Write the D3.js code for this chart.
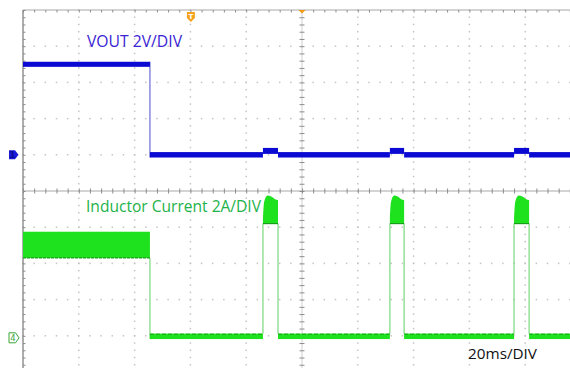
<!DOCTYPE html>
<html><head><meta charset="utf-8">
<script src="https://cdn.jsdelivr.net/npm/d3@7"></script>
<style>html,body{margin:0;padding:0;background:#fff;overflow:hidden}svg{display:block}</style>
</head><body>
<script>
// ---- data (read from the scope capture) ----
const msPerDiv = 20;            // time base
const voltsPerDiv = 2;          // channel 1 (VOUT)
const ampsPerDiv = 2;           // channel 4 (inductor current)
const ch1OffsetDiv = 1;         // channel 1 ground marker
const ch4OffsetDiv = -4;        // channel 4 ground marker

// VOUT envelope segments (ms, volts)
const voutSegStart = [0, 45.5, 86.0, 91.4, 131.5, 136.6, 176.0, 181.4];
const voutSegEnd   = [45.5, 86.0, 91.4, 131.5, 136.6, 176.0, 181.4, 200];
const voutSegMin   = [4.86, -0.15, 0.05, -0.15, 0.05, -0.15, 0.05, -0.15];
const voutSegMax   = [5.14, 0.15, 0.38, 0.15, 0.38, 0.15, 0.38, 0.15];
const voutFallTime = 45.5;

// Inductor current (ms, amps)
const ilPreStart = 0, ilPreEnd = 45.5;
const ilPreMin = 4.3, ilPreMax = 5.75;
const idleStart = [45.5, 91.4, 136.6, 181.4];
const idleEnd   = [86.0, 131.5, 176.0, 200];
const idleMin = -0.18, idleMax = 0.12;
const burstStart = [86.0, 131.5, 176.0];
const burstEnd   = [91.4, 136.6, 181.4];
const burstFloor = 6.2;
const burstProfilePos = [0, 0.08, 0.3, 0.55, 0.8, 1];
const burstProfileTop = [6.5, 7.4, 7.75, 7.7, 7.55, 7.5];

const labels = ["VOUT 2V/DIV", "Inductor Current 2A/DIV", "20ms/DIV"];

// ---- layout ----
const W = 570, H = 368;
const svg = d3.select("body").append("svg").attr("width", W).attr("height", H);
const x = d3.scaleLinear().domain([0, 10 * msPerDiv]).range([23, 581]);
const yDiv = d3.scaleLinear().domain([-5, 5]).range([372, 10]);
const yV = v => yDiv(ch1OffsetDiv + v / voltsPerDiv);
const yI = i => yDiv(ch4OffsetDiv + i / ampsPerDiv);

// ---- graticule ----
const grid = svg.append("g");
const minorX = d3.range(0, 10 * msPerDiv + 0.01, msPerDiv / 5);
const minorY = d3.range(-5, 5.01, 0.2);
const majorX = d3.range(0, 10 * msPerDiv + 0.01, msPerDiv);
const majorY = d3.range(-5, 5.01, 1);
const dotCol = "#c4c4c4";
// dotted lines
majorX.forEach(t => {
  if (t === 0 || t === 5 * msPerDiv) return;
  grid.selectAll(null).data(minorY).join("rect")
    .attr("x", x(t) - 0.75).attr("y", d => yDiv(d) - 0.75)
    .attr("width", 1.5).attr("height", 1.5).attr("fill", dotCol);
});
majorY.forEach(d0 => {
  if (d0 === 0 || d0 === 5) return;
  grid.selectAll(null).data(minorX).join("rect")
    .attr("x", d => x(d) - 0.75).attr("y", yDiv(d0) - 0.75)
    .attr("width", 1.5).attr("height", 1.5).attr("fill", dotCol);
});
// borders and centre lines
const lineCol = "#a8a8a8";
grid.append("line").attr("x1", x(0)).attr("x2", W).attr("y1", yDiv(5)).attr("y2", yDiv(5)).attr("stroke", lineCol).attr("stroke-width", 1.2);
grid.append("line").attr("x1", x(0)).attr("x2", x(0)).attr("y1", yDiv(5)).attr("y2", H).attr("stroke", "#8a8a8a").attr("stroke-width", 1.4);
grid.append("line").attr("x1", x(0)).attr("x2", W).attr("y1", yDiv(0)).attr("y2", yDiv(0)).attr("stroke", lineCol).attr("stroke-width", 1);
grid.append("line").attr("x1", x(100)).attr("x2", x(100)).attr("y1", yDiv(5)).attr("y2", H).attr("stroke", "#cfcfcf").attr("stroke-width", 1);
// ticks
const tickCol = "#8c8c8c";
grid.append("g").attr("transform", `translate(0,${yDiv(5)})`)
  .call(d3.axisBottom(x).tickValues(minorX).tickSize(2.5).tickFormat(""))
  .call(g => g.select(".domain").remove()).selectAll("line").attr("stroke", tickCol);
grid.append("g").attr("transform", `translate(0,${yDiv(0)})`)
  .call(d3.axisBottom(x).tickValues(minorX).tickSize(2.5).tickFormat(""))
  .call(g => g.select(".domain").remove()).selectAll("line").attr("stroke", tickCol);
grid.append("g").attr("transform", `translate(0,${yDiv(0)})`)
  .call(d3.axisTop(x).tickValues(minorX).tickSize(2.5).tickFormat(""))
  .call(g => g.select(".domain").remove()).selectAll("line").attr("stroke", tickCol);
grid.append("g").attr("transform", `translate(${x(0)},0)`)
  .call(d3.axisRight(yDiv).tickValues(minorY).tickSize(2.5).tickFormat(""))
  .call(g => g.select(".domain").remove()).selectAll("line").attr("stroke", tickCol);
grid.append("g").attr("transform", `translate(${x(100)},0)`)
  .call(d3.axisRight(yDiv).tickValues(minorY).tickSize(2.5).tickFormat(""))
  .call(g => g.select(".domain").remove()).selectAll("line").attr("stroke", tickCol);
grid.append("g").attr("transform", `translate(${x(100)},0)`)
  .call(d3.axisLeft(yDiv).tickValues(minorY).tickSize(2.5).tickFormat(""))
  .call(g => g.select(".domain").remove()).selectAll("line").attr("stroke", tickCol);

// ---- channel 4 : inductor current ----
const green = "#1fe21f", greenDark = "#17a017", greenThin = "#7cd87c";
const ch4 = svg.append("g");
// thin transitions
ch4.append("line").attr("x1", x(ilPreEnd)).attr("x2", x(ilPreEnd))
  .attr("y1", yI(ilPreMin)).attr("y2", yI(idleMin)).attr("stroke", greenThin).attr("stroke-width", 1.2);
burstStart.forEach((s, k) => {
  [s, burstEnd[k]].forEach(t => {
    ch4.append("line").attr("x1", x(t)).attr("x2", x(t))
      .attr("y1", yI(burstFloor)).attr("y2", yI(idleMax)).attr("stroke", greenThin).attr("stroke-width", 1.2);
  });
});
// pre-transient ripple band
ch4.append("rect").attr("x", x(ilPreStart)).attr("width", x(ilPreEnd) - x(ilPreStart))
  .attr("y", yI(ilPreMax)).attr("height", yI(ilPreMin) - yI(ilPreMax)).attr("fill", green);
ch4.append("line").attr("x1", x(ilPreStart)).attr("x2", x(ilPreEnd))
  .attr("y1", yI(ilPreMin)).attr("y2", yI(ilPreMin)).attr("stroke", greenDark).attr("stroke-width", 1.2).attr("stroke-dasharray", "3,1");
// idle bands
idleStart.forEach((s, k) => {
  ch4.append("rect").attr("x", x(s)).attr("width", x(idleEnd[k]) - x(s))
    .attr("y", yI(idleMax)).attr("height", yI(idleMin) - yI(idleMax)).attr("fill", green);
  ch4.append("line").attr("x1", x(s)).attr("x2", x(idleEnd[k]))
    .attr("y1", yI(idleMax) + 0.5).attr("y2", yI(idleMax) + 0.5).attr("stroke", greenDark).attr("stroke-width", 1).attr("stroke-dasharray", "4,2");
});
// bursts
const burstArea = d3.area().x(d => d[0]).y0(d => d[1]).y1(d => d[2]).curve(d3.curveMonotoneX);
burstStart.forEach((s, k) => {
  const e = burstEnd[k];
  const pts = burstProfilePos.map((p, i) => [x(s + p * (e - s)), yI(burstFloor), yI(burstProfileTop[i])]);
  ch4.append("path").attr("d", burstArea(pts)).attr("fill", green);
  ch4.append("line").attr("x1", x(s)).attr("x2", x(e)).attr("y1", yI(burstFloor)).attr("y2", yI(burstFloor))
    .attr("stroke", greenDark).attr("stroke-width", 1.2);
});

// ---- channel 1 : VOUT ----
const blue = "#0a0ad2";
const ch1 = svg.append("g");
ch1.append("line").attr("x1", x(voutFallTime)).attr("x2", x(voutFallTime))
  .attr("y1", yV(voutSegMax[0])).attr("y2", yV(voutSegMin[1])).attr("stroke", "#6a6ad8").attr("stroke-width", 1.2);
voutSegStart.forEach((s, k) => {
  ch1.append("rect").attr("x", x(s)).attr("width", x(voutSegEnd[k]) - x(s))
    .attr("y", yV(voutSegMax[k])).attr("height", yV(voutSegMin[k]) - yV(voutSegMax[k])).attr("fill", blue);
});

// ---- markers ----
const mk = svg.append("g");
// channel 1 marker (filled blue)
const y1m = yDiv(ch1OffsetDiv);
mk.append("path").attr("d", `M9,${y1m - 4.5}h6l3.5,4.5l-3.5,4.5h-6z`).attr("fill", "#1a1ad8");
mk.append("text").attr("x", 12.5).attr("y", y1m + 3.5).attr("text-anchor", "middle")
  .attr("font-family", "DejaVu Sans").attr("font-size", 9).attr("font-weight", "bold").attr("fill", "#0a0a9a").text("1");
// channel 4 marker (outlined green)
const y4m = yDiv(ch4OffsetDiv) + 2;
mk.append("path").attr("d", `M9,${y4m - 5}h6.5l3.5,5l-3.5,5h-6.5z`).attr("fill", "#fff").attr("stroke", "#3aa53a").attr("stroke-width", 1);
mk.append("text").attr("x", 13).attr("y", y4m + 3.5).attr("text-anchor", "middle")
  .attr("font-family", "DejaVu Sans").attr("font-size", 8.5).attr("fill", "#3aa53a").text("4");
// trigger markers
mk.append("path").attr("d", `M${x(100) - 3.5},${yDiv(5)}h7l-3.5,3.5z`).attr("fill", "#f29a12");
const tx = x(3 * msPerDiv) + 0.5;
mk.append("path").attr("d", `M${tx - 4},12h8v6l-4,4l-4,-4z`).attr("fill", "#f4a21c");
mk.append("text").attr("x", tx).attr("y", 18.5).attr("text-anchor", "middle")
  .attr("font-family", "DejaVu Sans").attr("font-size", 7).attr("font-weight", "bold").attr("fill", "#fff").text("T");

// ---- labels ----
const tf = "'Open Sans', 'Liberation Sans', sans-serif";
svg.append("text").attr("x", 87).attr("y", 47).attr("font-family", tf).attr("font-size", 16)
  .attr("textLength", 95).attr("lengthAdjust", "spacingAndGlyphs").attr("fill", "#3a24d4").text(labels[0]);
svg.append("text").attr("x", 86).attr("y", 212).attr("font-family", tf).attr("font-size", 16)
  .attr("textLength", 175).attr("lengthAdjust", "spacingAndGlyphs").attr("fill", "#22b24a").text(labels[1]);
svg.append("text").attr("x", 468).attr("y", 359).attr("font-family", tf).attr("font-size", 15)
  .attr("textLength", 69).attr("lengthAdjust", "spacingAndGlyphs").attr("fill", "#111").text(labels[2]);
</script>
</body></html>
